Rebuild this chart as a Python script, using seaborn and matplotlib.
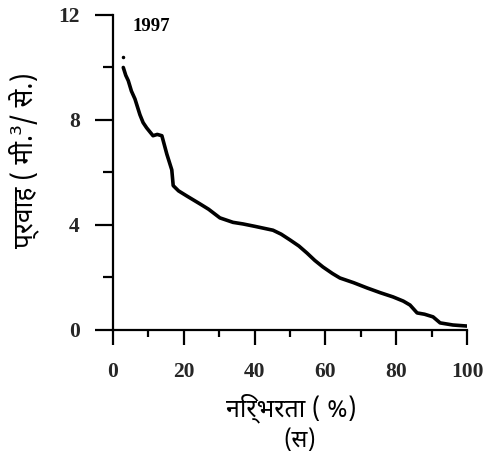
import matplotlib
matplotlib.use("Agg")
import matplotlib.pyplot as plt
import seaborn as sns
import pandas as pd
from matplotlib.ticker import MultipleLocator

# Data (flow duration curve, 1997)
dependability = [2.9, 3.6, 4.3, 5.2, 6.2, 7.6, 8.5, 9.5, 11.3, 12.5, 13.8, 15.2, 16.6, 17.0,
                 18.5, 20.9, 24.6, 27.0, 30.2, 33.9, 36.7, 40.0, 45.2, 47.5, 50.0, 52.5,
                 54.8, 57.0, 59.3, 62.0, 64.1, 68.0, 71.8, 75.5, 79.1, 82.0, 83.9, 85.9,
                 88.0, 90.4, 92.4, 96.0, 100.0]
discharge = [10.0, 9.7, 9.5, 9.1, 8.8, 8.2, 7.9, 7.7, 7.4, 7.45, 7.4, 6.7, 6.1, 5.5,
             5.3, 5.1, 4.8, 4.6, 4.27, 4.1, 4.04, 3.95, 3.8, 3.65, 3.43, 3.2,
             2.93, 2.65, 2.4, 2.15, 1.98, 1.8, 1.6, 1.42, 1.26, 1.1, 0.95, 0.65,
             0.6, 0.5, 0.27, 0.19, 0.15]
x_ticks = [0, 20, 40, 60, 80, 100]
y_ticks = [0, 4, 8, 12]
year_label = "1997"
x_label = "निर्भरता ( %)"
y_label = "प्रवाह ( मी.³/ से.)"
panel_label = "(स)"

df = pd.DataFrame({"dep": dependability, "q": discharge})

sns.set_theme(style="ticks")
plt.rcParams["font.family"] = ["Noto Sans Devanagari", "Lohit Devanagari", "Noto Sans", "DejaVu Sans"]

fig = plt.figure(figsize=(4.88, 4.61), dpi=100)
ax = fig.add_axes([0.2316, 0.2842, 0.7254, 0.6833])

sns.lineplot(data=df, x="dep", y="q", ax=ax, color="black", linewidth=2.6)
ax.plot([2.9], [10.4], marker="o", color="black", markersize=1.5)

ax.set_xlim(0, 100)
ax.set_ylim(0, 12)
ax.set_xticks(x_ticks)
ax.set_yticks(y_ticks)
ax.xaxis.set_minor_locator(MultipleLocator(10))
ax.yaxis.set_minor_locator(MultipleLocator(2))
sns.despine(ax=ax)
for s in ["left", "bottom"]:
    ax.spines[s].set_linewidth(1.6)
    ax.spines[s].set_color("black")

tick_font = dict(family="Liberation Serif", weight="bold", size=15.5)
ax.tick_params(axis="y", which="major", length=13, width=1.6, color="black", pad=11)
ax.tick_params(axis="y", which="minor", length=7.5, width=1.6, color="black")
ax.tick_params(axis="x", which="major", length=11, width=1.6, color="black", pad=12)
ax.tick_params(axis="x", which="minor", length=5, width=1.6, color="black")
ax.set_xticklabels([str(t) for t in x_ticks], **tick_font)
ax.set_yticklabels([str(t) for t in y_ticks], **tick_font)

ax.set_xlabel("")
ax.set_ylabel("")
ax.text(5.5, 11.55, year_label, family="Liberation Serif", weight="bold", size=13.5,
        ha="left", va="center", color="black")

fig.text(0.596, 0.115, x_label, ha="center", va="center", size=18, color="black")
fig.text(0.615, 0.043, panel_label, ha="center", va="center", size=17, color="black")
fig.text(0.049, 0.653, y_label, ha="center", va="center", rotation=90, size=19, color="black")

fig.savefig("out.png", dpi=100, facecolor="white")
